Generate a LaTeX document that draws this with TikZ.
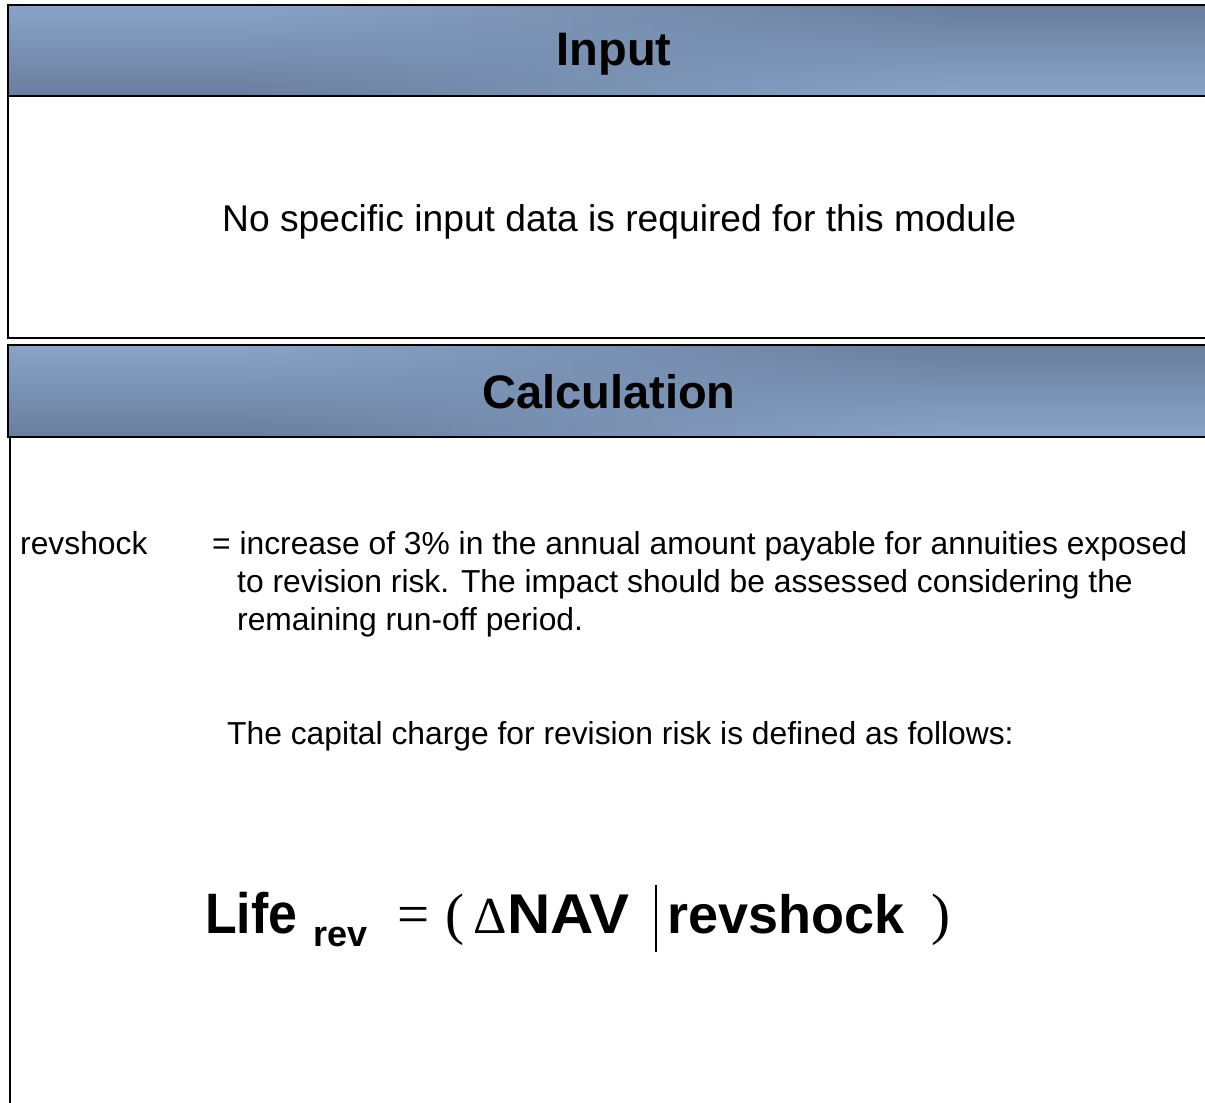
\documentclass[tikz,border=0pt]{standalone}
\usepackage{fontspec}
\setmainfont{Liberation Sans}
\newfontfamily\serifpart{Liberation Serif}
\definecolor{hl}{RGB}{136,164,200}
\definecolor{hd}{RGB}{106,126,158}
\newcommand\hdrshade[2]{%
  \foreach \i in {0,...,59}{
    \pgfmathsetmacro\xa{8+\i*20.2}
    \pgfmathsetmacro\xm{\xa+10.1}
    \pgfmathsetmacro\myt{min(1,max(0,(\xm-250)/700))}
    \pgfmathsetmacro\pp{100*(1-\myt)}
    \pgfmathsetmacro\qq{100*\myt}
    \shade[top color=hl!\pp!hd, bottom color=hl!\qq!hd] (\xa,#1) rectangle (\xa+20.8,#2);
  }}
\tikzset{
  frame/.style={line width=2pt, draw=black},
  hdrtext/.style={anchor=base, inner sep=0pt, font=\fontsize{47}{52}\selectfont\bfseries},
  bodytext/.style={anchor=base west, inner sep=0pt, font=\fontsize{31.8}{38}\selectfont},
  fml/.style={anchor=base west, inner sep=0pt},
}
\begin{document}
\begin{tikzpicture}[x=1pt,y=-1pt]
\useasboundingbox (0,0) rectangle (1205,1103);
\clip (0,0) rectangle (1205,1103);
\fill[white] (0,0) rectangle (1205,1103);
% Input panel
\hdrshade{5}{96}
\draw[frame] (8,5) rectangle (1215,96);
\draw[frame] (8,96) -- (8,338) -- (1215,338);
\node[hdrtext] (inputhdr) at (614,65) {Input};
\node[anchor=base west, inner sep=0pt, font=\fontsize{37.2}{42}\selectfont] (nodata) at (222,231)
  {No specific input data is required for this module};
% Calculation panel
\hdrshade{345}{437}
\draw[frame] (8,345) rectangle (1215,437);
\draw[frame] (10,437) -- (10,1115);
\node[hdrtext] (calchdr) at (609,408) {Calculation};
\node[bodytext] (revlabel) at (20,554) {revshock};
\node[bodytext] (revdef1) at (212,554) {= increase of 3\% in the annual amount payable for annuities exposed};
\node[bodytext] (revdef2) at (237,592) {to revision risk. The impact should be assessed considering the};
\node[bodytext] (revdef3) at (237,630) {remaining run-off period.};
\node[bodytext] (capline) at (227,744) {The capital charge for revision risk is defined as follows:};
% Formula
\node[fml, font=\fontsize{57}{60}\selectfont\bfseries] (life) at (205,933) {\scalebox{0.91}[1]{Life}};
\node[fml, font=\fontsize{36}{40}\selectfont\bfseries] (rev) at (313,946) {rev};
\node[fml, font=\fontsize{57}{60}\selectfont\serifpart] (eq) at (397,933) {=};
\node[fml, font=\fontsize{57}{60}\selectfont\serifpart] (lpar) at (445,933) {(};
\node[fml, font=\fontsize{52}{55}\selectfont\serifpart] (delta) at (473,933) {Δ};
\node[fml, font=\fontsize{56}{60}\selectfont\bfseries] (nav) at (507,933) {\scalebox{1.07}[1]{NAV}};
\coordinate (bartop) at (656,885);
\coordinate (barbot) at (656,952);
\draw[line width=2pt] (bartop) -- (barbot);
\node[fml, font=\fontsize{54}{58}\selectfont\bfseries] (revshock) at (667,933) {revshock};
\node[fml, font=\fontsize{57}{60}\selectfont\serifpart] (rpar) at (931,933) {)};
\end{tikzpicture}
\end{document}
